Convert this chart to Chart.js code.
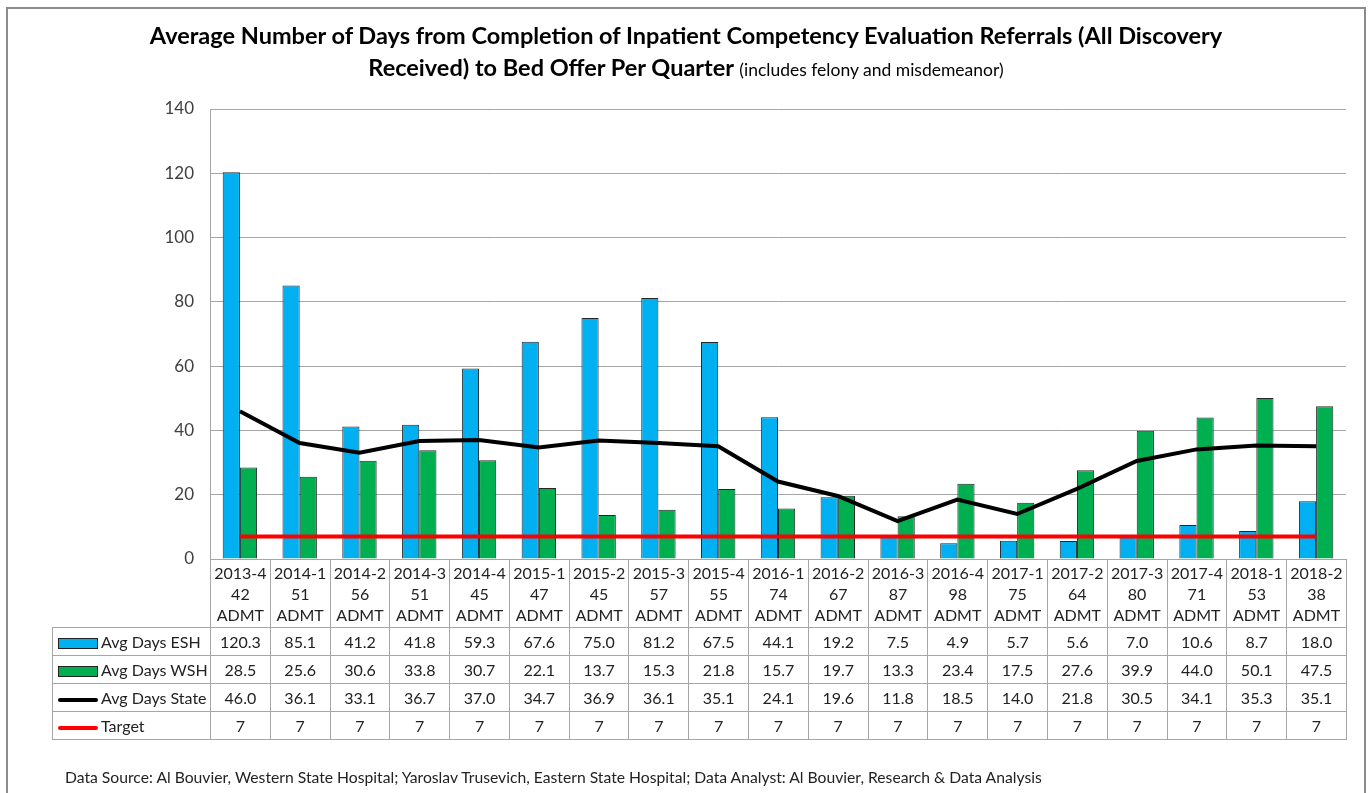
<!DOCTYPE html>
<html>
<head>
<meta charset="utf-8">
<title>Average Number of Days to Bed Offer</title>
<script src="https://cdn.jsdelivr.net/npm/chart.js"></script>
<style>
  body { margin: 0; background: #fff; font-family: Lato, "Open Sans", sans-serif; }
  #wrap { position: relative; width: 1372px; height: 793px; overflow: hidden; }
  #frame { position: absolute; left: 6px; top: 7px; width: 1360px; height: 800px; border: 2px solid #8c8c8c; box-sizing: border-box; }
  canvas { position: absolute; left: 0; top: 0; }
  .title { position: absolute; left: 0; width: 1372px; text-align: center; font-weight: bold; font-size: 23.5px; color: #000; }
  .title small { font-weight: normal; font-size: 17.5px; }
  #note { position: absolute; left: 65px; top: 768px; font-size: 15.7px; color: #222; }
  #tbl { position: absolute; left: 52px; top: 559px; border-collapse: collapse; table-layout: fixed; font-size: 16px; color: #222; }
  #tbl td { border: 1px solid #a6a6a6; text-align: center; padding: 0; height: 27px; white-space: nowrap; }
  #tbl tr.head td { height: 67px; line-height: 21px; }
  #tbl tr.head td.blank { border: none; border-right: 1px solid #a6a6a6; }
  #tbl td.lab { text-align: left; padding-left: 5px; }
  .key { display: inline-block; width: 40px; vertical-align: middle; margin-right: 3px; box-sizing: border-box; }
  .key.bar { height: 11px; border: 1px solid #222; }
  .key.line { height: 4px; border-radius: 2px; }
</style>
</head>
<body>
<div id="wrap">
  <div id="frame"></div>
  <canvas id="chart" width="1372" height="793"></canvas>
  <div class="title" style="top:21px">Average Number of Days from Completion of Inpatient Competency Evaluation Referrals (All Discovery</div>
  <div class="title" style="top:53px">Received) to Bed Offer Per Quarter <small>(includes felony and misdemeanor)</small></div>
  <table id="tbl"></table>
  <div id="note">Data Source: Al Bouvier, Western State Hospital; Yaroslav Trusevich, Eastern State Hospital; Data Analyst: Al Bouvier, Research &amp; Data Analysis</div>
</div>

<script>
    // quarters and admissions per quarter
    var quarters = ["2013-4", "2014-1", "2014-2", "2014-3", "2014-4", "2015-1", "2015-2", "2015-3", "2015-4",
                    "2016-1", "2016-2", "2016-3", "2016-4", "2017-1", "2017-2", "2017-3", "2017-4", "2018-1", "2018-2"];
    var admissions = [42, 51, 56, 51, 45, 47, 45, 57, 55, 74, 67, 87, 98, 75, 64, 80, 71, 53, 38];

    // series
    var eshDays = [120.3, 85.1, 41.2, 41.8, 59.3, 67.6, 75.0, 81.2, 67.5, 44.1, 19.2, 7.5, 4.9, 5.7, 5.6, 7.0, 10.6, 8.7, 18.0];
    var wshDays = [28.5, 25.6, 30.6, 33.8, 30.7, 22.1, 13.7, 15.3, 21.8, 15.7, 19.7, 13.3, 23.4, 17.5, 27.6, 39.9, 44.0, 50.1, 47.5];
    var stateDays = [46.0, 36.1, 33.1, 36.7, 37.0, 34.7, 36.9, 36.1, 35.1, 24.1, 19.6, 11.8, 18.5, 14.0, 21.8, 30.5, 34.1, 35.3, 35.1];
    var target = [7, 7, 7, 7, 7, 7, 7, 7, 7, 7, 7, 7, 7, 7, 7, 7, 7, 7, 7];

    var yTicks = [0, 20, 40, 60, 80, 100, 120, 140];

    var labels = quarters.map(function (q, i) { return [q, String(admissions[i]), "ADMT"]; });

    var ctx = document.getElementById("chart").getContext("2d");
    var chart = new Chart(ctx, {
        type: "bar",
        data: {
            labels: labels,
            datasets: [
                { type: "line", label: "Avg Days State", data: stateDays, borderColor: "#000", borderWidth: 4,
                  pointRadius: 0, fill: false, order: 1 },
                { type: "line", label: "Target", data: target, borderColor: "#ff0000", borderWidth: 4,
                  pointRadius: 0, fill: false, order: 0 },
                { label: "Avg Days ESH", data: eshDays, backgroundColor: "#00b0f0", borderColor: "#262626",
                  borderWidth: 1, order: 2 },
                { label: "Avg Days WSH", data: wshDays, backgroundColor: "#00b050", borderColor: "#262626",
                  borderWidth: 1, order: 2 }
            ]
        },
        options: {
            responsive: false,
            animation: false,
            layout: { padding: { left: 150, top: 109, right: 26, bottom: 234 } },
            datasets: { bar: { barPercentage: 1, categoryPercentage: 0.575 } },
            plugins: { legend: { display: false }, tooltip: { enabled: false } },
            scales: {
                x: { display: false, offset: true },
                y: {
                    min: 0, max: 140,
                    afterFit: function (s) { s.width = 60; },
                    afterBuildTicks: function (s) { s.ticks = yTicks.map(function (v) { return { value: v }; }); },
                    ticks: { padding: 16, color: "#404040", font: { family: "Lato", size: 17 } },
                    grid: { color: "#a6a6a6", drawTicks: false },
                    border: { color: "#a6a6a6" }
                }
            }
        }
    });

    // build the data table below the plot, aligned with the category columns
    var colW = (chart.chartArea.right - chart.chartArea.left) / quarters.length;
    var tbl = document.getElementById("tbl");
    tbl.style.top = chart.chartArea.bottom + "px";
    var html = "<colgroup><col style='width:" + (chart.chartArea.left - 52) + "px'>";
    quarters.forEach(function () { html += "<col style='width:" + colW + "px'>"; });
    html += "</colgroup><tr class='head'><td class='blank'></td>";
    labels.forEach(function (l) { html += "<td>" + l.join("<br>") + "</td>"; });
    html += "</tr>";
    var rows = [
        { name: "Avg Days ESH", key: "<span class='key bar' style='background:#00b0f0'></span>", vals: eshDays, dec: 1 },
        { name: "Avg Days WSH", key: "<span class='key bar' style='background:#00b050'></span>", vals: wshDays, dec: 1 },
        { name: "Avg Days State", key: "<span class='key line' style='background:#000'></span>", vals: stateDays, dec: 1 },
        { name: "Target", key: "<span class='key line' style='background:#ff0000'></span>", vals: target, dec: 0 }
    ];
    rows.forEach(function (r) {
        html += "<tr><td class='lab'>" + r.key + r.name + "</td>";
        r.vals.forEach(function (v) { html += "<td>" + v.toFixed(r.dec) + "</td>"; });
        html += "</tr>";
    });
    tbl.innerHTML = html;
</script>
</body>
</html>
